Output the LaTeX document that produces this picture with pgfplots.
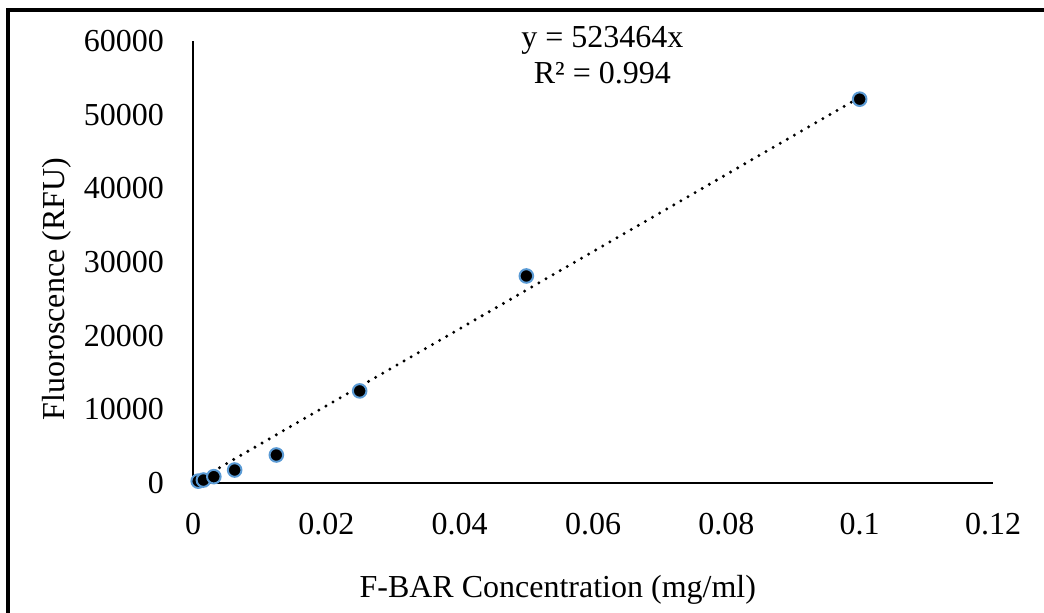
\documentclass[border=0pt]{standalone}
\usepackage{fontspec}
\setmainfont{Liberation Serif}
\usepackage{pgfplots}
\pgfplotsset{compat=1.18}
\definecolor{mkedge}{RGB}{91,155,213}
\begin{document}
\fontsize{16}{19}\selectfont
\begin{tikzpicture}
\path[use as bounding box] (0,0) rectangle (522pt,306.5pt);
\draw[line width=1.75pt] (4pt,0) -- (4pt,301.5pt) -- (522pt,301.5pt);
\begin{axis}[
  at={(96.5pt,65pt)}, anchor=south west,
  scale only axis, width=400pt, height=221pt,
  xmin=0, xmax=0.12, ymin=0, ymax=60000,
  axis x line=bottom, axis y line=left,
  axis line style={-, line width=0.75pt, black},
  xtick={0,0.02,0.04,0.06,0.08,0.1,0.12},
  ytick={0,10000,20000,30000,40000,50000,60000},
  major tick length=0pt,
  scaled ticks=false,
  /pgf/number format/assume math mode=true,
  /pgf/number format/set thousands separator={},
  xticklabel style={/pgf/number format/fixed, /pgf/number format/precision=2, yshift=-9.5pt},
  yticklabel style={xshift=-9pt},
  tick label style={font=\fontsize{16}{19}\selectfont},
  xlabel={F-BAR Concentration (mg/ml)},
  ylabel={Fluoroscence (RFU)},
  label style={font=\fontsize{16}{19}\selectfont},
  xlabel style={at={(axis description cs:0.456,-0.258)}, anchor=base},
  ylabel style={at={(axis description cs:-0.16,0.439)}, anchor=base},
  clip=false,
]
\addplot[black, line width=1.65pt, dash pattern=on 0pt off 4.1pt, line cap=round]
  coordinates {(0.00078,408) (0.1,52346)};
\addplot[only marks, mark=*, mark size=3.4pt,
  mark options={fill=black, draw=mkedge, line width=1pt}]
  coordinates {
  (0.00078,250) (0.0015625,400) (0.003125,860) (0.00625,1760)
  (0.0125,3800) (0.025,12500) (0.05,28100) (0.1,52100)
  };
\node[anchor=base, font=\fontsize{16}{19}\selectfont] at (axis cs:0.0614,59183) {y = 523464x};
\node[anchor=base, font=\fontsize{16}{19}\selectfont] at (axis cs:0.0614,54296) {R² = 0.994};
\end{axis}
\end{tikzpicture}
\end{document}
